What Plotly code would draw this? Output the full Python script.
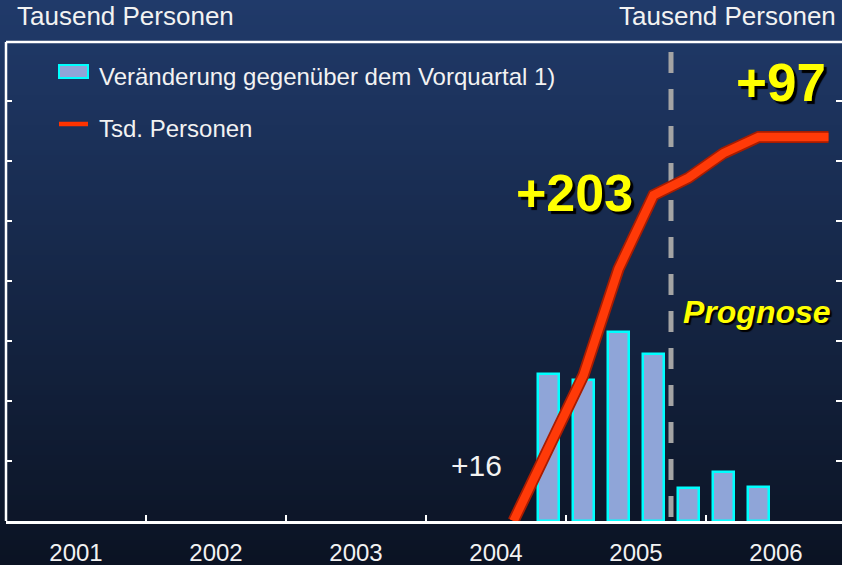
import plotly.graph_objects as go

# ---------------- data ----------------
bar_quarters = ["2004-Q4", "2005-Q1", "2005-Q2", "2005-Q3", "2005-Q4", "2006-Q1", "2006-Q2"]
bar_values = [245, 235, 315, 278, 55, 81, 57]

line_quarters = ["2004-Q3", "2004-Q4", "2005-Q1", "2005-Q2", "2005-Q3",
                 "2005-Q4", "2006-Q1", "2006-Q2", "2006-Q3", "2006-Q4"]
line_values = [0, 123, 243, 420, 543, 572, 613, 640, 640, 640]

year_labels = ["2001", "2002", "2003", "2004", "2005", "2006"]
forecast_start = 2005.75  # start of 2005-Q4

bar_name = "Veränderung gegenüber dem Vorquartal 1)"
line_name = "Tsd. Personen"
unit_label = "Tausend Personen"


def qx(q):
    y, n = q.split("-Q")
    return int(y) + (int(n) - 0.5) / 4


bar_x = [qx(q) for q in bar_quarters]
line_x = [qx(q) for q in line_quarters]
year_x = [int(y) + 0.5 for y in year_labels]
year_bounds = [int(y) for y in year_labels[1:]]

# ---------------- layout geometry ----------------
W, H = 842, 565
L, T, B, R = 6, 42, 44, 0
PW, PH = W - L - R, H - T - B


def px2x(px):
    return (px - L) / PW


def py2y(py):
    return (T + PH - py) / PH


FONT = "Arial, Liberation Sans, sans-serif"

fig = go.Figure()

fig.add_trace(go.Bar(
    x=bar_x, y=bar_values, width=0.15, name=bar_name,
    marker=dict(color="#8fa5d8", line=dict(color="#00ffff", width=2.5)),
    showlegend=False,
))
# line: dark underlay + bright core
fig.add_trace(go.Scatter(
    x=line_x, y=line_values, mode="lines", showlegend=False, hoverinfo="skip",
    line=dict(color="#a81c00", width=12),
))
fig.add_trace(go.Scatter(
    x=line_x, y=line_values, mode="lines", name=line_name, showlegend=False,
    line=dict(color="#ff3a08", width=8.5),
))

shapes = []
# gradient background
top = (32, 58, 106)
bot = (11, 19, 35)
n = 113
for i in range(n):
    f = i / (n - 1)
    c = tuple(round(top[k] + (bot[k] - top[k]) * f) for k in range(3))
    y0 = i * H / n
    y1 = (i + 1) * H / n + 1
    shapes.append(dict(type="rect", xref="paper", yref="paper",
                       x0=px2x(-2), x1=px2x(W + 2), y0=py2y(y1), y1=py2y(y0),
                       fillcolor="rgb(%d,%d,%d)" % c, line=dict(width=0), layer="below"))
# forecast divider
shapes.append(dict(type="line", xref="x", yref="paper", x0=forecast_start, x1=forecast_start,
                   y0=py2y(52), y1=0, line=dict(color="#a4a4a4", width=5, dash="21px,16px"),
                   layer="below"))
# frame (top & left)
shapes.append(dict(type="line", xref="paper", yref="paper", x0=0, x1=px2x(W + 5), y0=1, y1=1,
                   line=dict(color="white", width=2.5)))
shapes.append(dict(type="line", xref="paper", yref="paper", x0=0, x1=0, y0=0, y1=1,
                   line=dict(color="white", width=2.5)))
# legend swatches
shapes.append(dict(type="rect", xref="paper", yref="paper",
                   x0=px2x(59), x1=px2x(88), y0=py2y(78), y1=py2y(65),
                   fillcolor="#8fa5d8", line=dict(color="#00ffff", width=2)))
shapes.append(dict(type="line", xref="paper", yref="paper",
                   x0=px2x(59), x1=px2x(88), y0=py2y(124), y1=py2y(124),
                   line=dict(color="#ff3300", width=4.5)))

white = "#f2f2f2"
yellow = "#ffff00"
shadow = "3px 3px 1px #000000"
annotations = [
    dict(text=unit_label, x=px2x(15), y=py2y(16), xanchor="left", yanchor="middle",
         font=dict(size=26, color=white, family=FONT)),
    dict(text=unit_label, x=px2x(838), y=py2y(16), xanchor="right", yanchor="middle",
         font=dict(size=26, color=white, family=FONT)),
    dict(text=bar_name, x=px2x(97), y=py2y(76), xanchor="left", yanchor="middle",
         font=dict(size=24, color=white, family=FONT)),
    dict(text=line_name, x=px2x(97), y=py2y(128), xanchor="left", yanchor="middle",
         font=dict(size=24, color=white, family=FONT)),
    dict(text="<b>+203</b>", x=px2x(574), y=py2y(193), xanchor="center", yanchor="middle",
         font=dict(size=52, color=yellow, family=FONT, shadow=shadow)),
    dict(text="<b>+97</b>", x=px2x(781), y=py2y(82), xanchor="center", yanchor="middle",
         font=dict(size=53, color=yellow, family=FONT, shadow=shadow)),
    dict(text="<b><i>Prognose</i></b>", x=px2x(757), y=py2y(312), xanchor="center", yanchor="middle",
         font=dict(size=32, color=yellow, family=FONT, shadow="2px 2px 1px #000000")),
    dict(text="+16", x=px2x(476), y=py2y(465), xanchor="center", yanchor="middle",
         font=dict(size=30, color=white, family=FONT)),
]
for a in annotations:
    a.update(xref="paper", yref="paper", showarrow=False)

fig.update_layout(
    width=W, height=H,
    margin=dict(l=L, r=R, t=T, b=B, pad=0),
    paper_bgcolor="#162a4c",
    plot_bgcolor="rgba(0,0,0,0)",
    showlegend=False,
    shapes=shapes,
    annotations=annotations,
    font=dict(family=FONT, color=white),
    xaxis=dict(
        range=[2001, 2001 + PW / 140], showgrid=False, zeroline=False,
        showline=True, linecolor="white", linewidth=2.5,
        tickmode="array", tickvals=year_x, ticktext=year_labels, ticks="",
        tickfont=dict(size=24, color=white, family=FONT), ticklabelstandoff=8,
        minor=dict(tickmode="array", tickvals=year_bounds, ticks="inside", ticklen=6,
                   tickwidth=2, tickcolor="white"),
    ),
    yaxis=dict(
        range=[0, PH / 60 * 100], showgrid=False, zeroline=False, showline=False,
        tickmode="linear", tick0=0, dtick=100, ticks="inside", ticklen=6, tickwidth=2,
        tickcolor="white", showticklabels=False, mirror="ticks",
    ),
    bargap=0,
)

fig.write_html(
    "out.html",
    config={"displayModeBar": False},
    post_script="document.body.style.margin='0';document.body.style.overflow='hidden';",
)
